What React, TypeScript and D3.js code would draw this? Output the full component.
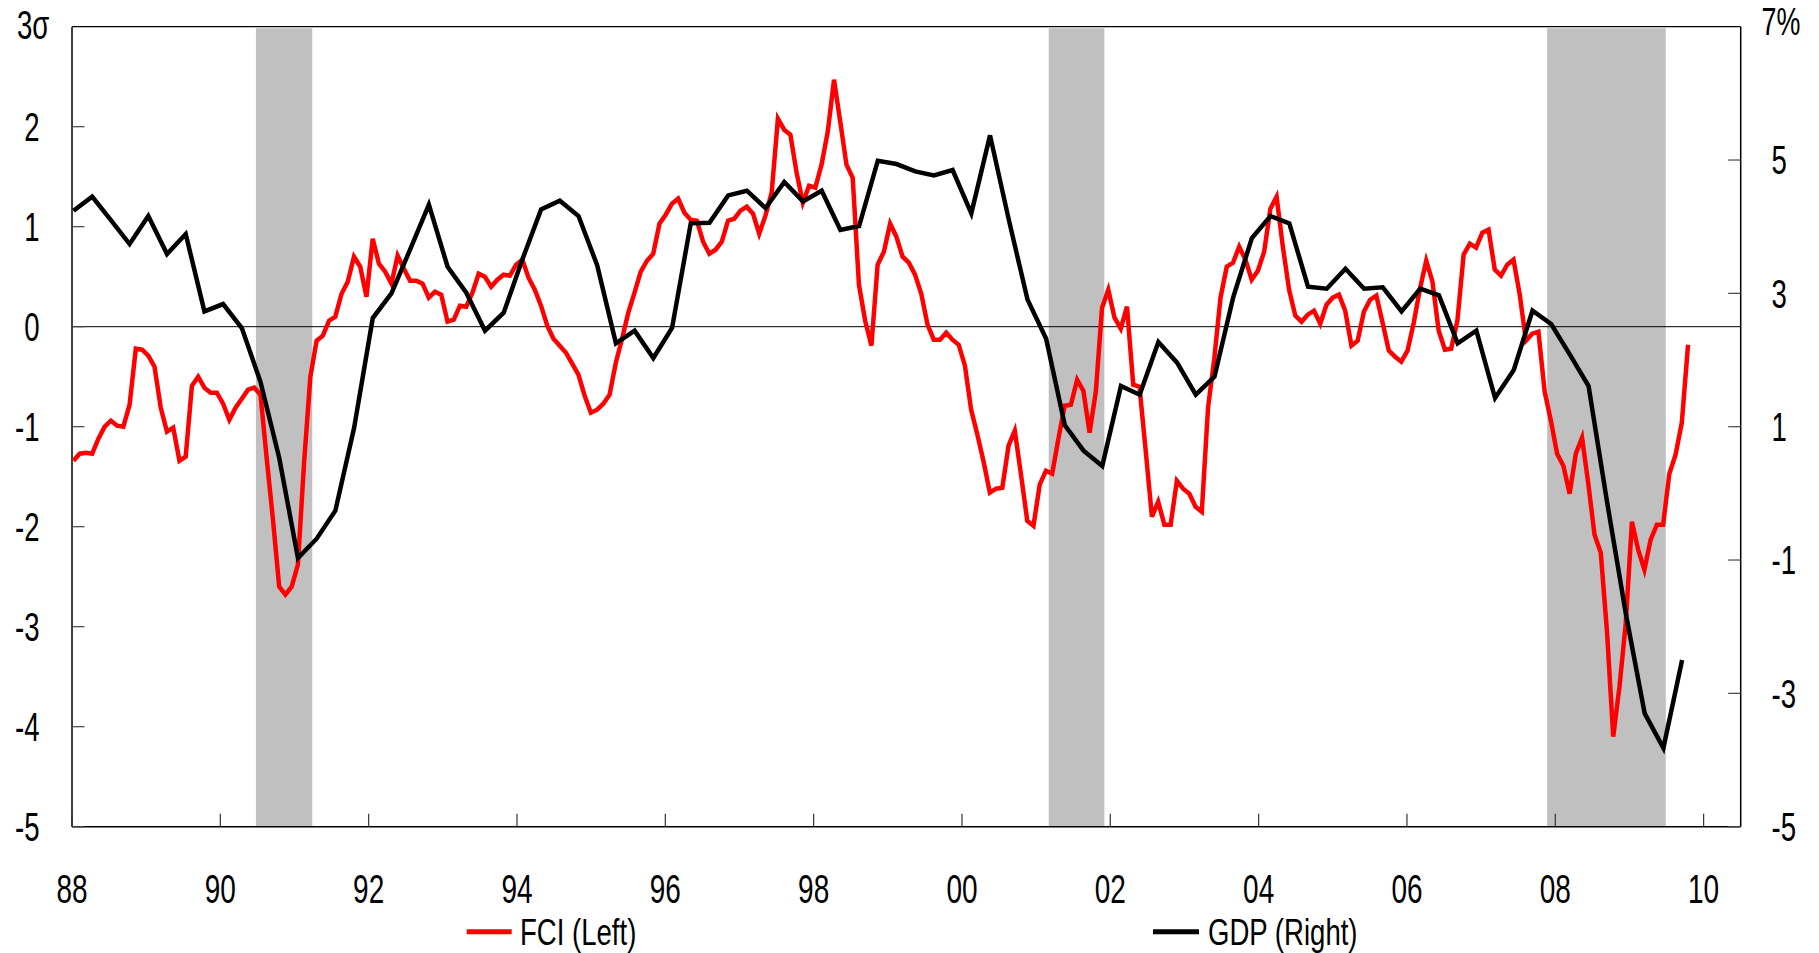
import React, { useEffect } from "react";
import * as d3 from "d3";

// ---------------- DATA ----------------
// Monthly FCI (left axis, sigma), Jan 1988 onward
const FCI_VALUES: number[] = [
  -1.34, -1.27, -1.26, -1.27, -1.12, -1.0, -0.94, -0.99, -1.0, -0.78,
  -0.22, -0.23, -0.29, -0.4, -0.81, -1.05, -1.01, -1.34, -1.3, -0.59,
  -0.5, -0.61, -0.66, -0.66, -0.77, -0.93, -0.81, -0.72, -0.63, -0.61,
  -0.68, -1.32, -1.93, -2.6, -2.68, -2.6, -2.38, -1.35, -0.5, -0.14,
  -0.09, 0.06, 0.1, 0.33, 0.45, 0.7, 0.6, 0.3, 0.88, 0.63,
  0.55, 0.43, 0.71, 0.58, 0.46, 0.46, 0.43, 0.29, 0.35, 0.32,
  0.05, 0.07, 0.21, 0.2, 0.34, 0.53, 0.5, 0.4, 0.47, 0.52,
  0.51, 0.62, 0.67, 0.49, 0.37, 0.21, 0.01, -0.12, -0.19, -0.26,
  -0.37, -0.48, -0.69, -0.86, -0.83, -0.77, -0.68, -0.36, -0.12, 0.14,
  0.34, 0.55, 0.66, 0.73, 1.03, 1.12, 1.23, 1.28, 1.14, 1.07,
  1.06, 0.85, 0.73, 0.77, 0.85, 1.06, 1.08, 1.16, 1.2, 1.13,
  0.93, 1.11, 1.34, 2.08, 1.97, 1.92, 1.54, 1.24, 1.41, 1.39,
  1.62, 1.95, 2.47, 2.05, 1.62, 1.49, 0.42, 0.06, -0.19, 0.62,
  0.75, 1.03, 0.9, 0.7, 0.64, 0.52, 0.33, 0.02, -0.13, -0.13,
  -0.06, -0.13, -0.18, -0.39, -0.83, -1.08, -1.35, -1.66, -1.62, -1.61,
  -1.19, -1.04, -1.48, -1.94, -1.99, -1.58, -1.44, -1.47, -1.12, -0.79,
  -0.78, -0.53, -0.64, -1.06, -0.65, 0.19, 0.37, 0.09, -0.02, 0.2,
  -0.58, -0.6, -1.24, -1.9, -1.75, -1.98, -1.98, -1.54, -1.62, -1.67,
  -1.8, -1.85, -0.81, -0.32, 0.29, 0.6, 0.64, 0.8, 0.67, 0.47,
  0.56, 0.75, 1.18, 1.3, 0.8, 0.37, 0.11, 0.05, 0.12, 0.16,
  0.03, 0.22, 0.29, 0.32, 0.16, -0.19, -0.14, 0.15, 0.27, 0.31,
  0.04, -0.24, -0.3, -0.35, -0.24, 0.04, 0.38, 0.66, 0.45, -0.04,
  -0.23, -0.22, 0.06, 0.72, 0.83, 0.79, 0.94, 0.97, 0.57, 0.51,
  0.62, 0.67, 0.32, -0.14, -0.07, -0.05, -0.65, -0.94, -1.27, -1.39,
  -1.67, -1.27, -1.11, -1.57, -2.08, -2.26, -3.05, -4.1, -3.6, -2.97,
  -1.95, -2.23, -2.43, -2.13, -1.98, -1.98, -1.47, -1.28, -0.96, -0.18,
];
const FCI_SPAN: [number, number] = [1988.02, 2009.79];

// Quarterly GDP y/y % (right axis), 1988Q1 - 2009Q3
const GDP_VALUES: number[] = [
  4.24, 4.45, 4.1, 3.74, 4.16, 3.59, 3.89, 2.73, 2.84, 2.48,
  1.67, 0.53, -0.97, -0.68, -0.26, 0.98, 2.63, 3.0, 3.66, 4.33,
  3.4, 3.01, 2.44, 2.71, 3.51, 4.26, 4.39, 4.16, 3.42, 2.25,
  2.44, 2.03, 2.48, 4.05, 4.06, 4.47, 4.54, 4.28, 4.67, 4.38,
  4.54, 3.95, 4.01, 4.99, 4.94, 4.83, 4.77, 4.85, 4.2, 5.37,
  4.11, 2.91, 2.32, 1.02, 0.64, 0.41, 1.61, 1.48, 2.27, 1.96,
  1.48, 1.75, 2.94, 3.83, 4.16, 4.05, 3.1, 3.07, 3.37, 3.07,
  3.09, 2.73, 3.07, 2.97, 2.25, 2.44, 1.43, 1.85, 2.74, 2.54,
  2.08, 1.61, -0.15, -1.82, -3.3, -3.82, -2.5,
];
const GDP_SPAN: [number, number] = [1988.02, 2009.71];

const X_TICK_YEARS = [1988, 1990, 1992, 1994, 1996, 1998, 2000, 2002, 2004, 2006, 2008, 2010];
const X_TICK_LABELS = ["88", "90", "92", "94", "96", "98", "00", "02", "04", "06", "08", "10"];
const LEFT_TICKS = [2, 1, 0, -1, -2, -3, -4, -5];
const LEFT_TOP_LABEL = "3σ";
const RIGHT_TICKS = [5, 3, 1, -1, -3, -5];
const RIGHT_TOP_LABEL = "7%";
const RECESSIONS: [number, number][] = [
  [1990.48, 1991.24],
  [2001.17, 2001.92],
  [2007.89, 2009.49],
];
const LEGEND = [
  { label: "FCI (Left)", color: "#ff0000" },
  { label: "GDP (Right)", color: "#000000" },
];

// ---------------- LAYOUT ----------------
const W = 1819;
const H = 953;
const L = 72;
const R = 1740.7;
const T = 26.7;
const B = 826.7;
const FONT = "'Liberation Sans', Arial, sans-serif";
const SX = 0.69;

export default function App() {
  useEffect(() => {
    document.body.style.margin = "0";
  }, []);

  const x = d3.scaleLinear().domain([1988, 2010.5]).range([L, R]);
  const yL = d3.scaleLinear().domain([-5, 3]).range([B, T]);
  const yR = d3.scaleLinear().domain([-5, 7]).range([B, T]);

  const fciX = d3
    .scaleLinear()
    .domain([0, FCI_VALUES.length - 1])
    .range([x(FCI_SPAN[0]), x(FCI_SPAN[1])]);
  const gdpX = d3
    .scaleLinear()
    .domain([0, GDP_VALUES.length - 1])
    .range([x(GDP_SPAN[0]), x(GDP_SPAN[1])]);

  const fciLine = d3
    .line<number>()
    .x((_, i) => fciX(i))
    .y((d) => yL(d));
  const gdpLine = d3
    .line<number>()
    .x((_, i) => gdpX(i))
    .y((d) => yR(d));

  const txt = (
    key: string,
    s: string,
    tx: number,
    ty: number,
    anchor: "start" | "middle" | "end",
    size: number,
    sx: number = SX
  ) => (
    <text
      key={key}
      transform={`translate(${tx},${ty}) scale(${sx},1)`}
      textAnchor={anchor}
      fontFamily={FONT}
      fontSize={size}
      fill="#000"
    >
      {s}
    </text>
  );

  return (
    <svg
      width={W}
      height={H}
      style={{ position: "absolute", left: 0, top: 0, background: "#fff" }}
    >
      <rect x={0} y={0} width={W} height={H} fill="#fff" />
      {/* recession shading */}
      {RECESSIONS.map(([a, b], i) => (
        <rect
          key={"rec" + i}
          x={x(a)}
          y={T + 1.5}
          width={x(b) - x(a)}
          height={B - T - 1.5}
          fill="#c0c0c0"
        />
      ))}
      {/* zero line */}
      <line x1={L} x2={R} y1={yL(0)} y2={yL(0)} stroke="#000" strokeWidth={1} />

      {/* frame */}
      <line x1={L} x2={R} y1={T} y2={T} stroke="#000" strokeWidth={1.2} />
      <line x1={L} x2={L} y1={T} y2={B} stroke="#000" strokeWidth={1.5} />
      <line x1={R} x2={R} y1={T} y2={B} stroke="#000" strokeWidth={1.5} />
      <line x1={L} x2={R} y1={B} y2={B} stroke="#000" strokeWidth={1.5} />

      {/* ticks */}
      {LEFT_TICKS.map((v) => (
        <line key={"lt" + v} x1={L} x2={L + 12.5} y1={yL(v)} y2={yL(v)} stroke="#444" strokeWidth={1.2} />
      ))}
      {RIGHT_TICKS.map((v) => (
        <line key={"rt" + v} x1={R - 12.5} x2={R} y1={yR(v)} y2={yR(v)} stroke="#444" strokeWidth={1.2} />
      ))}
      {X_TICK_YEARS.map((yr) => (
        <line key={"xt" + yr} x1={x(yr)} x2={x(yr)} y1={B} y2={B - 13} stroke="#333" strokeWidth={1.2} />
      ))}

      {/* series */}
      <path d={fciLine(FCI_VALUES) || ""} fill="none" stroke="#ff0000" strokeWidth={4.5} />
      <path d={gdpLine(GDP_VALUES) || ""} fill="none" stroke="#000" strokeWidth={4.5} />

      {/* left labels */}
      {txt("l3", LEFT_TOP_LABEL, 17, 39, "start", 40)}
      {LEFT_TICKS.map((v) => txt("ll" + v, String(v), 39.5, yL(v) + 14.3, "end", 40))}
      {/* right labels */}
      {txt("r7", RIGHT_TOP_LABEL, 1761.5, 35, "start", 39)}
      {RIGHT_TICKS.map((v) => txt("rl" + v, String(v), 1771.5, yR(v) + 14.3, "start", 40))}
      {/* x labels */}
      {X_TICK_YEARS.map((yr, i) => txt("xl" + yr, X_TICK_LABELS[i], x(yr), 902.5, "middle", 40, 0.7))}

      {/* legend */}
      <line x1={466.7} x2={511.7} y1={931.7} y2={931.7} stroke={LEGEND[0].color} strokeWidth={5} />
      {txt("lg0", LEGEND[0].label, 520, 944.5, "start", 37, 0.745)}
      <line x1={1153} x2={1199} y1={931.7} y2={931.7} stroke={LEGEND[1].color} strokeWidth={5} />
      {txt("lg1", LEGEND[1].label, 1208, 944.5, "start", 37, 0.745)}
    </svg>
  );
}
